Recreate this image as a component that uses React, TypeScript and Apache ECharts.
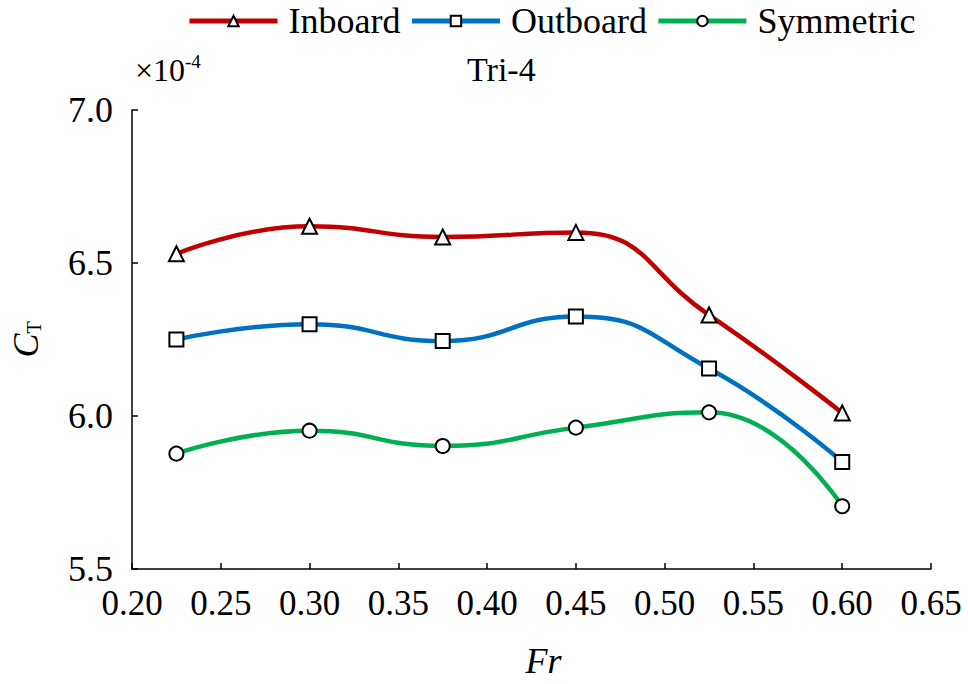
import React, { useEffect, useRef } from "react";
import * as echarts from "echarts";

const frValues = [0.225, 0.3, 0.375, 0.45, 0.525, 0.6];
const inboard = [6.53, 6.62, 6.585, 6.6, 6.33, 6.01];
const outboard = [6.25, 6.3, 6.245, 6.325, 6.155, 5.85];
const symmetric = [5.877, 5.952, 5.902, 5.962, 6.012, 5.705];
const seriesNames = ["Inboard", "Outboard", "Symmetric"];
const seriesColors = ["#c00000", "#0070c0", "#00b050"];
const seriesSymbols = ["triangle", "rect", "circle"];

const FONT = "Liberation Serif";

export default function App() {
  const ref = useRef<HTMLDivElement>(null);
  useEffect(() => {
    if (!ref.current) return;
    const chart = echarts.init(ref.current, undefined, { renderer: "svg" });
    const allData = [inboard, outboard, symmetric];
    const series = allData.map((vals, i) => ({
      name: seriesNames[i],
      type: "line",
      smooth: 0.5,
      data: frValues.map((x, j) => [x, vals[j]]),
      symbol: seriesSymbols[i],
      symbolSize: i === 0 ? 15 : 14,
      showAllSymbol: true,
      lineStyle: { color: seriesColors[i], width: 4.5 },
      itemStyle: { color: "#ffffff", borderColor: "#000000", borderWidth: 2 },
      z: 3 - i,
    }));
    chart.setOption({
      animation: false,
      backgroundColor: "#ffffff",
      textStyle: { fontFamily: FONT, color: "#000" },
      legend: {
        top: 3,
        left: 187,
        padding: 0,
        itemWidth: 88,
        itemHeight: 13,
        itemGap: 9,
        lineStyle: { width: 5 },
        textStyle: {
          fontFamily: FONT,
          fontSize: 36,
          lineHeight: 28,
          color: "#000",
          padding: [0, 0, 0, 6],
        },
        data: seriesNames,
      },
      grid: { left: 127, right: 37, top: 110, bottom: 109, containLabel: false },
      xAxis: {
        type: "value",
        min: 0.2,
        max: 0.65,
        interval: 0.05,
        name: "Fr",
        nameLocation: "middle",
        nameGap: 74,
        nameTextStyle: {
          fontFamily: FONT,
          fontSize: 36,
          fontStyle: "italic",
          color: "#000",
          padding: [0, 0, 0, 24],
        },
        axisLine: { lineStyle: { color: "#000", width: 1.5 } },
        axisTick: { inside: true, length: 6, lineStyle: { color: "#000", width: 1.5 } },
        splitLine: { show: false },
        axisLabel: {
          fontFamily: FONT,
          fontSize: 35,
          color: "#000",
          margin: 17,
          formatter: (v: number) => v.toFixed(2),
        },
      },
      yAxis: {
        type: "value",
        min: 5.5,
        max: 7.0,
        interval: 0.5,
        name: "{c|C}{t|T}",
        nameLocation: "middle",
        nameGap: 88,
        nameTextStyle: {
          fontFamily: FONT,
          color: "#000",
          rich: {
            c: { fontFamily: FONT, fontSize: 36, fontStyle: "italic", color: "#000", lineHeight: 36 },
            t: {
              fontFamily: FONT,
              fontSize: 20,
              color: "#000",
              verticalAlign: "bottom",
              lineHeight: 36,
              padding: [12, 0, 0, 0],
            },
          },
        },
        axisLine: { show: true, lineStyle: { color: "#000", width: 1.5 } },
        axisTick: { show: true, inside: true, length: 6, lineStyle: { color: "#000", width: 1.5 } },
        splitLine: { show: false },
        axisLabel: {
          fontFamily: FONT,
          fontSize: 36,
          color: "#000",
          margin: 19,
          formatter: (v: number) => v.toFixed(1),
        },
      },
      graphic: [
        {
          type: "text",
          left: 467,
          top: 52,
          style: { text: "Tri-4", fontFamily: FONT, fontSize: 34, fill: "#000" },
        },
        {
          type: "text",
          left: 135,
          top: 52,
          style: {
            text: "{a|×10}{b|-4}",
            fill: "#000",
            rich: {
              a: { fontFamily: FONT, fontSize: 32, fill: "#000", lineHeight: 36 },
              b: { fontFamily: FONT, fontSize: 19, fill: "#000", verticalAlign: "top", lineHeight: 36 },
            },
          },
        },
      ],
      series,
    });
    return () => chart.dispose();
  }, []);
  return (
    <div
      ref={ref}
      style={{ position: "fixed", left: 0, top: 0, width: 968, height: 684, background: "#fff" }}
    />
  );
}
